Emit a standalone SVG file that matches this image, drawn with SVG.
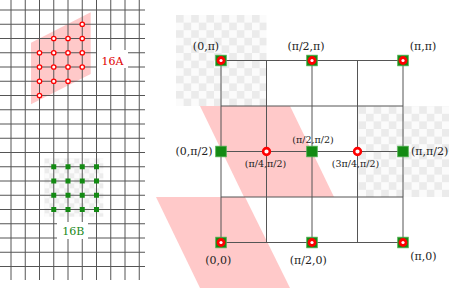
<svg xmlns="http://www.w3.org/2000/svg" width="463" height="297" viewBox="0 0 463 297">
<defs>
<pattern id="chkL" patternUnits="userSpaceOnUse" x="44.3" y="158.3" width="10" height="10">
<rect width="10" height="10" fill="#fbfbfb"/>
<rect width="5" height="5" fill="#ececec"/>
<rect x="5" y="5" width="5" height="5" fill="#ececec"/>
</pattern>
<pattern id="chkR" patternUnits="userSpaceOnUse" x="176" y="15" width="15.2" height="15.2">
<rect width="15.2" height="15.2" fill="#fbfbfb"/>
<rect width="7.6" height="7.6" fill="#ebebeb"/>
<rect x="7.6" y="7.6" width="7.6" height="7.6" fill="#ebebeb"/>
</pattern>
</defs>
<style>
.g{stroke:#555;stroke-width:1;fill:none}
.pink{fill:#ffc9c9}
.rd{fill:#fff;stroke:#f00;stroke-width:1.3}
.gs{fill:#138a13}
.lbl{font-family:"DejaVu Serif",serif;font-size:11px;fill:#222;text-anchor:middle}
.sm{font-size:9.5px}
.ring{fill:#fff;stroke:#f00;stroke-width:2.6}
.node{fill:#138a13;stroke:#4fb04f;stroke-width:0.8}
</style>
<rect width="463" height="297" fill="#fff"/>

<!-- left panel backgrounds -->
<polygon class="pink" points="31,42.7 90.7,12.3 90.7,74 31,104.3"/>
<rect x="44.3" y="158.3" width="59" height="58.4" fill="url(#chkL)"/>

<g id="left-grid" class="g">
<path d="M11,0V280M25.25,0V280M39.5,0V280M53.75,0V280M68,0V280M82.25,0V280M96.5,0V280M110.75,0V280M125,0V280M139.25,0V280"/>
<path d="M0,10H145M0,24.25H145M0,38.5H145M0,52.75H145M0,67H145M0,81.25H145M0,95.5H145M0,109.75H145M0,124H145M0,138.25H145M0,152.5H145M0,166.75H145M0,181H145M0,195.25H145M0,209.5H145M0,223.75H145M0,238H145M0,252.25H145M0,266.5H145"/>
</g>

<g id="lattice-16A">
<circle class="rd" cx="82.25" cy="24.25" r="2.2"/>
<circle class="rd" cx="53.75" cy="38.5" r="2.2"/>
<circle class="rd" cx="68" cy="38.5" r="2.2"/>
<circle class="rd" cx="82.25" cy="38.5" r="2.2"/>
<circle class="rd" cx="39.5" cy="52.75" r="2.2"/>
<circle class="rd" cx="53.75" cy="52.75" r="2.2"/>
<circle class="rd" cx="68" cy="52.75" r="2.2"/>
<circle class="rd" cx="82.25" cy="52.75" r="2.2"/>
<circle class="rd" cx="39.5" cy="67" r="2.2"/>
<circle class="rd" cx="53.75" cy="67" r="2.2"/>
<circle class="rd" cx="68" cy="67" r="2.2"/>
<circle class="rd" cx="82.25" cy="67" r="2.2"/>
<circle class="rd" cx="39.5" cy="81.25" r="2.2"/>
<circle class="rd" cx="53.75" cy="81.25" r="2.2"/>
<circle class="rd" cx="68" cy="81.25" r="2.2"/>
<circle class="rd" cx="39.5" cy="95.5" r="2.2"/>
</g>
<g id="label-16A">
<rect x="97" y="50" width="31" height="18" fill="#fff"/>
<text x="112.5" y="64.5" font-family="DejaVu Serif, serif" font-size="11" fill="#e00000" text-anchor="middle">16A</text>
</g>

<g id="lattice-16B" class="gs">
<rect x="51.25" y="164.25" width="5" height="5"/>
<rect x="65.5" y="164.25" width="5" height="5"/>
<rect x="79.75" y="164.25" width="5" height="5"/>
<rect x="94" y="164.25" width="5" height="5"/>
<rect x="51.25" y="178.5" width="5" height="5"/>
<rect x="65.5" y="178.5" width="5" height="5"/>
<rect x="79.75" y="178.5" width="5" height="5"/>
<rect x="94" y="178.5" width="5" height="5"/>
<rect x="51.25" y="192.75" width="5" height="5"/>
<rect x="65.5" y="192.75" width="5" height="5"/>
<rect x="79.75" y="192.75" width="5" height="5"/>
<rect x="94" y="192.75" width="5" height="5"/>
<rect x="51.25" y="207" width="5" height="5"/>
<rect x="65.5" y="207" width="5" height="5"/>
<rect x="79.75" y="207" width="5" height="5"/>
<rect x="94" y="207" width="5" height="5"/>
</g>
<g id="label-16B">
<rect x="57" y="222" width="31" height="17" fill="#fff"/>
<text x="73.3" y="235" font-family="DejaVu Serif, serif" font-size="11" fill="#1a8a1a" text-anchor="middle">16B</text>
</g>

<!-- right panel backgrounds -->
<rect x="176" y="15" width="90.5" height="91" fill="url(#chkR)"/>
<rect x="357.5" y="106" width="91.5" height="91" fill="url(#chkR)"/>
<polygon class="pink" points="200,106 290,106 334,197 244,197"/>
<polygon class="pink" points="156,197 245,197 290,288 200,288"/>

<g id="connectors" class="g">
<path d="M221,60.5H403M221,106H403M221,151.5H403M221,197H403M221,242.5H403"/>
<path d="M221,60.5V242.5M266.5,60.5V242.5M312,60.5V242.5M357.5,60.5V242.5M403,60.5V242.5"/>
</g>

<g id="n-0-pi"><rect class="node" x="215.7" y="55.2" width="10.6" height="10.6"/><circle cx="221" cy="60.5" r="4.4" fill="#f00"/><circle cx="221" cy="60.5" r="1.6" fill="#fff"/><text class="lbl" x="206" y="50">(0,π)</text></g>
<g id="n-pi2-pi"><rect class="node" x="306.7" y="55.2" width="10.6" height="10.6"/><circle cx="312" cy="60.5" r="4.4" fill="#f00"/><circle cx="312" cy="60.5" r="1.6" fill="#fff"/><text class="lbl" x="306" y="50">(π/2,π)</text></g>
<g id="n-pi-pi"><rect class="node" x="397.7" y="55.2" width="10.6" height="10.6"/><circle cx="403" cy="60.5" r="4.4" fill="#f00"/><circle cx="403" cy="60.5" r="1.6" fill="#fff"/><text class="lbl" x="423" y="50">(π,π)</text></g>

<g id="n-0-pi2"><rect class="node" x="215.7" y="146.2" width="10.6" height="10.6"/><text class="lbl" x="212.5" y="155" style="text-anchor:end">(0,π/2)</text></g>
<g id="n-pi4-pi2"><circle class="ring" cx="266.5" cy="151.5" r="3.4"/><text class="lbl sm" x="265.5" y="167.3">(π/4,π/2)</text></g>
<g id="n-pi2-pi2"><rect class="node" x="306.7" y="146.2" width="10.6" height="10.6"/><text class="lbl sm" x="313" y="143.3">(π/2,π/2)</text></g>
<g id="n-3pi4-pi2"><circle class="ring" cx="357.5" cy="151.5" r="3.4"/><text class="lbl sm" x="355.5" y="167.3">(3π/4,π/2)</text></g>
<g id="n-pi-pi2"><rect class="node" x="397.7" y="146.2" width="10.6" height="10.6"/><text class="lbl" x="411" y="155" style="text-anchor:start">(π,π/2)</text></g>

<g id="n-0-0"><rect class="node" x="215.7" y="237.2" width="10.6" height="10.6"/><circle cx="221" cy="242.5" r="4.4" fill="#f00"/><circle cx="221" cy="242.5" r="1.6" fill="#fff"/><text class="lbl" x="218.3" y="264">(0,0)</text></g>
<g id="n-pi2-0"><rect class="node" x="306.7" y="237.2" width="10.6" height="10.6"/><circle cx="312" cy="242.5" r="4.4" fill="#f00"/><circle cx="312" cy="242.5" r="1.6" fill="#fff"/><text class="lbl" x="308.3" y="264">(π/2,0)</text></g>
<g id="n-pi-0"><rect class="node" x="397.7" y="237.2" width="10.6" height="10.6"/><circle cx="403" cy="242.5" r="4.4" fill="#f00"/><circle cx="403" cy="242.5" r="1.6" fill="#fff"/><text class="lbl" x="423.3" y="260">(π,0)</text></g>
</svg>
